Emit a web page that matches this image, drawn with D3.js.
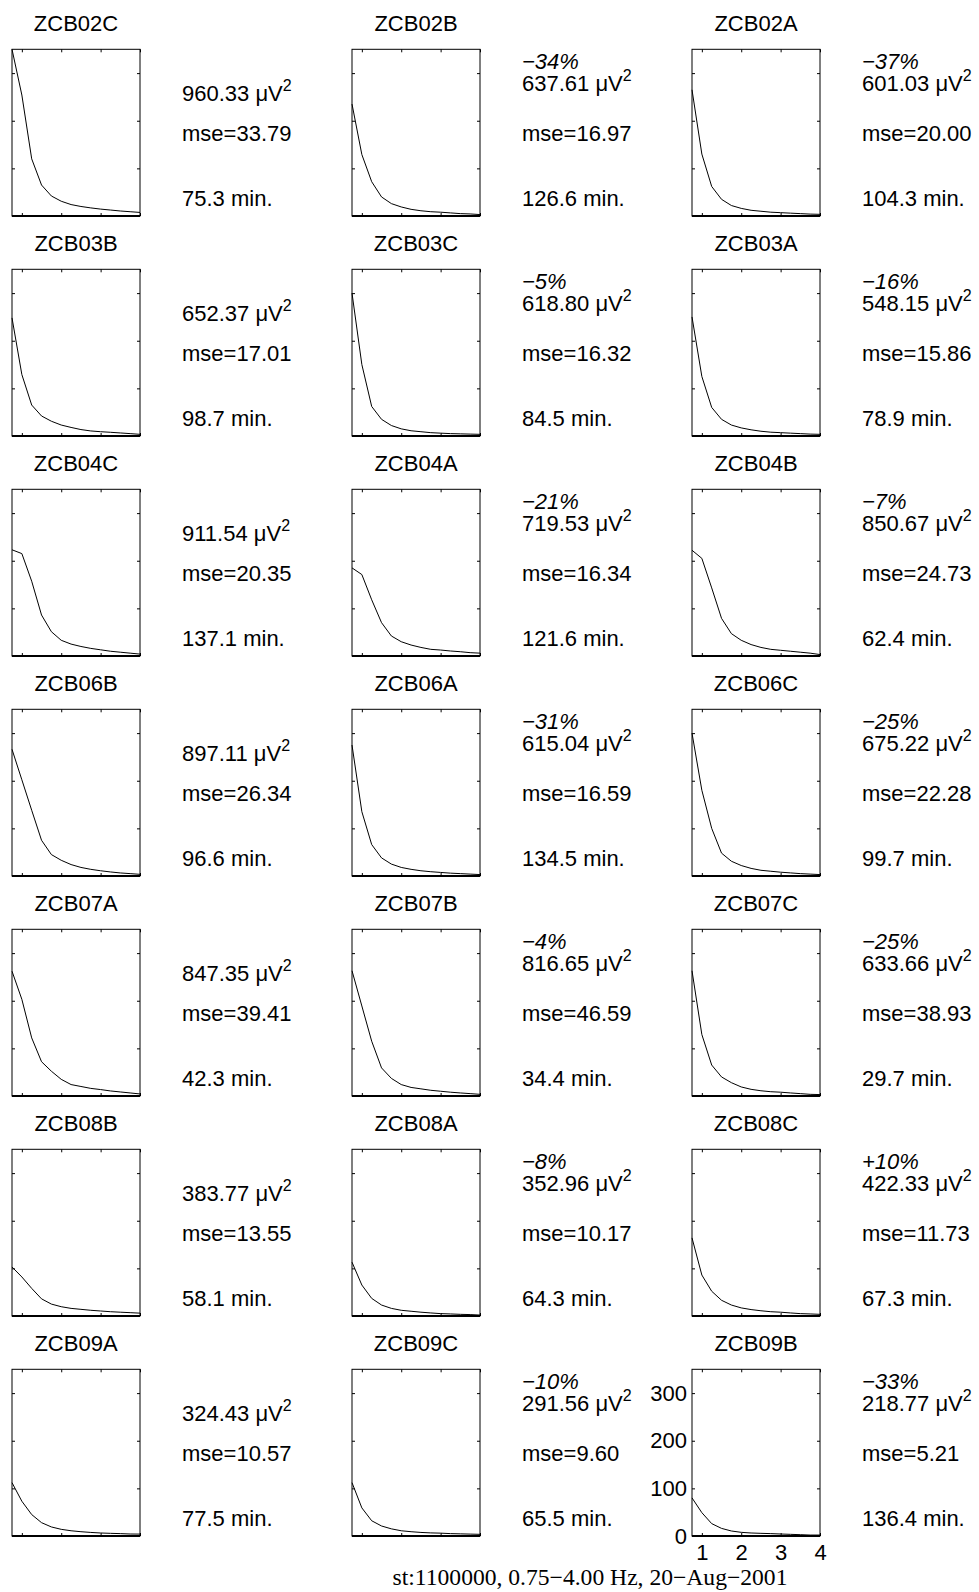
<!DOCTYPE html>
<html>
<head>
<meta charset="utf-8">
<script src="https://cdn.jsdelivr.net/npm/d3@7"></script>
<style>
  body { margin: 0; background: #fff; }
  svg text { font-family: "Liberation Sans", Arial, sans-serif; font-size: 22px; fill: #000; }
  svg text.foot { font-family: "Liberation Serif", "Times New Roman", serif; font-size: 23.6px; }
</style>
</head>
<body>
<svg id="chart" width="979" height="1592"></svg>
<script>
// frequency bins (Hz)
const freqs = [0.75, 1, 1.25, 1.5, 1.75, 2, 2.25, 2.5, 2.75, 3, 3.25, 3.5, 3.75, 4];
const xTicks = [1, 2, 3, 4];
const yTicks = [0, 100, 200, 300];

const names = ['ZCB02C', 'ZCB02B', 'ZCB02A', 'ZCB03B', 'ZCB03C', 'ZCB03A', 'ZCB04C', 'ZCB04A', 'ZCB04B',
  'ZCB06B', 'ZCB06A', 'ZCB06C', 'ZCB07A', 'ZCB07B', 'ZCB07C', 'ZCB08B', 'ZCB08A', 'ZCB08C',
  'ZCB09A', 'ZCB09C', 'ZCB09B'];
const change = ['', '−34%', '−37%', '', '−5%', '−16%', '', '−21%', '−7%', '', '−31%', '−25%',
  '', '−4%', '−25%', '', '−8%', '+10%', '', '−10%', '−33%'];
const power = ['960.33', '637.61', '601.03', '652.37', '618.80', '548.15', '911.54', '719.53', '850.67',
  '897.11', '615.04', '675.22', '847.35', '816.65', '633.66', '383.77', '352.96', '422.33',
  '324.43', '291.56', '218.77'];
const mse = ['33.79', '16.97', '20.00', '17.01', '16.32', '15.86', '20.35', '16.34', '24.73',
  '26.34', '16.59', '22.28', '39.41', '46.59', '38.93', '13.55', '10.17', '11.73',
  '10.57', '9.60', '5.21'];
const minutes = ['75.3', '126.6', '104.3', '98.7', '84.5', '78.9', '137.1', '121.6', '62.4',
  '96.6', '134.5', '99.7', '42.3', '34.4', '29.7', '58.1', '64.3', '67.3',
  '77.5', '65.5', '136.4'];

// spectrum per panel, same order as names
const spectra = [
  [350, 254, 120, 65, 42, 31, 24, 20, 17, 14.5, 12.5, 10.5, 9, 7.5],
  [235, 129, 72, 40, 26, 19, 14, 11, 9, 8, 6.5, 5, 4.3, 3],
  [265, 130, 62, 35, 22, 16, 12, 10, 8, 7, 6, 5, 4, 3.5],
  [248, 129, 65, 42, 31, 23, 18, 13.5, 10.6, 9, 7.8, 6.4, 5, 3.5],
  [300, 150, 62, 35, 22, 15, 11, 9, 7, 6, 5, 4.5, 4, 3.5],
  [250, 125, 60, 35, 23, 17, 13, 10, 8, 7, 6, 5, 4, 3.5],
  [223, 215, 157, 86, 51, 33, 25, 20, 16, 13, 10, 8, 6, 4],
  [185, 171, 118, 70, 42, 30, 23, 18, 14, 12.5, 10.5, 9, 7, 6],
  [222, 205, 143, 79, 47, 33, 24, 18, 14, 12, 10, 8, 6, 3],
  [266, 202, 138, 75, 45, 33, 24, 18, 14, 11, 8.5, 6.4, 5, 3.5],
  [275, 135, 66, 38, 25, 18, 14, 11, 9, 7.5, 6, 5, 4, 3],
  [300, 180, 100, 48, 31, 22, 16, 12, 10, 8, 6.5, 5, 4, 3],
  [262, 203, 122, 72, 52, 35, 24, 20, 16, 13.5, 10.6, 8.5, 6.4, 4.3],
  [263, 189, 115, 59, 37, 24, 18, 15, 12, 10, 8, 6.4, 5, 3.5],
  [263, 129, 65, 40, 28, 19, 14, 11, 9, 8, 6.4, 5, 3.5, 3],
  [103, 82, 58, 36, 25, 19.5, 16, 14, 12, 10.5, 9, 8, 7, 6],
  [113, 65, 37, 23, 16, 12, 10, 8, 6.4, 5, 4.3, 3.5, 3, 2],
  [164, 86, 52, 33, 23, 17, 13.5, 11, 9, 8, 6.4, 5, 4.3, 3.5],
  [112, 73, 45, 28, 19, 14, 11, 9, 7.5, 6.3, 5.6, 5, 4.2, 4],
  [112, 59, 32, 21, 15, 11, 9, 7.5, 6.5, 6, 5, 4.5, 4, 3.5],
  [80, 49, 26, 16, 10.5, 7.7, 6.3, 5.6, 5, 4.2, 3.5, 2.8, 2, 2],
];

const footer = 'st:1100000, 0.75−4.00 Hz, 20−Aug−2001';

const boxW = 128;
const boxH = 166.7;

const colX = d3.scaleLinear().domain([0, 1]).range([12, 352]);
const rowY = d3.scaleLinear().domain([0, 1]).range([49.3, 269.3]);
const x = d3.scaleLinear().domain([0.75, 4]).range([0, boxW]);
const y = d3.scaleLinear().domain([0, 350]).range([boxH, 0]);

const line = d3.line()
  .x((d, i) => x(freqs[i]))
  .y((d) => y(d));

const svg = d3.select('#chart');

names.forEach((name, i) => {
  const c = i % 3;
  const r = Math.floor(i / 3);
  const last = i === names.length - 1;
  const g = svg.append('g').attr('transform', `translate(${colX(c)},${rowY(r)})`);

  g.append('text')
    .attr('x', boxW / 2)
    .attr('y', -18.5)
    .attr('text-anchor', 'middle')
    .text(name);

  // inward ticks on all four sides
  g.append('g')
    .attr('transform', `translate(0,${boxH})`)
    .call(d3.axisBottom(x).tickValues(xTicks).tickSizeInner(-3).tickSizeOuter(0)
      .tickPadding(8).tickFormat(last ? d3.format('d') : () => ''));
  g.append('g')
    .call(d3.axisTop(x).tickValues(xTicks).tickSizeInner(-3).tickSizeOuter(0).tickFormat(() => ''));
  g.append('g')
    .call(d3.axisLeft(y).tickValues(yTicks).tickSizeInner(-3).tickSizeOuter(0)
      .tickPadding(5).tickFormat(last ? d3.format('d') : () => ''));
  g.append('g')
    .attr('transform', `translate(${boxW},0)`)
    .call(d3.axisRight(y).tickValues(yTicks).tickSizeInner(-3).tickSizeOuter(0).tickFormat(() => ''));
  g.selectAll('.domain').remove();

  g.append('rect')
    .attr('width', boxW)
    .attr('height', boxH)
    .attr('fill', 'none')
    .attr('stroke', '#000');
  g.append('line')
    .attr('x1', 0).attr('x2', boxW)
    .attr('y1', boxH).attr('y2', boxH)
    .attr('stroke', '#000')
    .attr('stroke-width', 2);

  g.append('path')
    .datum(spectra[i])
    .attr('d', line)
    .attr('fill', 'none')
    .attr('stroke', '#000')
    .attr('stroke-width', 1);

  const tx = 170;
  if (change[i]) {
    g.append('text')
      .attr('x', tx)
      .attr('y', 20)
      .attr('font-style', 'italic')
      .text(change[i]);
  }
  const pw = g.append('text')
    .attr('x', tx)
    .attr('y', change[i] ? 42 : 52);
  pw.append('tspan').text(`${power[i]} μV`);
  pw.append('tspan').attr('dy', -10).style('font-size', '16px').text('2');

  g.append('text').attr('x', tx).attr('y', 92).text(`mse=${mse[i]}`);
  g.append('text').attr('x', tx).attr('y', 157).text(`${minutes[i]} min.`);
});

svg.append('text')
  .attr('class', 'foot')
  .attr('x', 590)
  .attr('y', 1585)
  .attr('text-anchor', 'middle')
  .text(footer);
</script>
</body>
</html>
